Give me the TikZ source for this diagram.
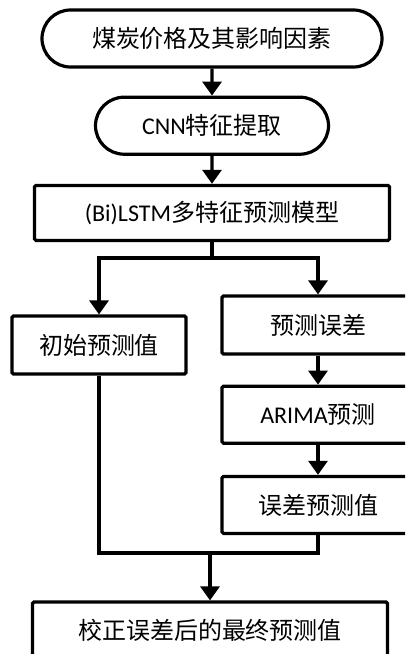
\documentclass[tikz,border=0pt]{standalone}
\usepackage{fontspec}
\setmainfont{Carlito}
\newfontfamily\cjk{Noto Sans CJK SC}
\newcommand{\lat}[1]{{\rmfamily #1}}
\usetikzlibrary{positioning,arrows.meta,shapes.misc}

\begin{document}
\begin{tikzpicture}[
x=1pt, y=1pt,
font=\cjk\fontsize{24}{28}\selectfont,
stadium/.style={rounded rectangle, draw, line width=3.2pt, minimum height=57pt, inner sep=0pt},
box/.style={rectangle, draw, line width=3.2pt, rounded corners=1.5pt, minimum height=57pt, inner sep=0pt},
arrow/.style={-{Triangle[width=19pt,length=14pt]}, line width=3.2pt},
line/.style={line width=3.2pt}
]
\useasboundingbox (0,0) rectangle (405,-654);
\clip (0,0) rectangle (405,-654);

% Main chain
\node (src) [stadium, minimum width=340pt] at (212,-38.5) {煤炭价格及其影响因素};
\node (cnn) [stadium, minimum width=233pt, below=27pt of src] {\lat{CNN}特征提取};
\node (lstm) [box, minimum width=355pt, minimum height=55pt, below=28pt of cnn] {\lat{(Bi)LSTM}多特征预测模型};

% Two branches
\node (init) [box, minimum width=174pt, minimum height=58pt] at (99,-345) {初始预测值};
\node (err) [box, minimum width=192pt, minimum height=58pt] at (318,-325) {预测误差};
\node (arima) [box, minimum width=192pt, below=29pt of err] {\lat{ARIMA}预测};
\node (errpred) [box, minimum width=192pt, below=30pt of arima] {误差预测值};

% Result
\node (final) [box, minimum width=355pt, minimum height=56pt] at (210,-630) {校正误差后的最终预测值};

\coordinate (split) at (212,-258);
\coordinate (merge) at (210,-553);

% Arrows
\draw [arrow] (src) -- (cnn);
\draw [arrow] (cnn) -- (lstm);
\draw [line] (lstm.south) -- (split);
\draw [arrow] (split) -| (init.north);
\draw [arrow] (split) -| (err.north);
\draw [arrow] (err) -- (arima);
\draw [arrow] (arima) -- (errpred);
\draw [line] (init.south) |- (merge);
\draw [line] (errpred.south) |- (merge);
\draw [arrow] (merge) -- (final.north);

\end{tikzpicture}
\end{document}
